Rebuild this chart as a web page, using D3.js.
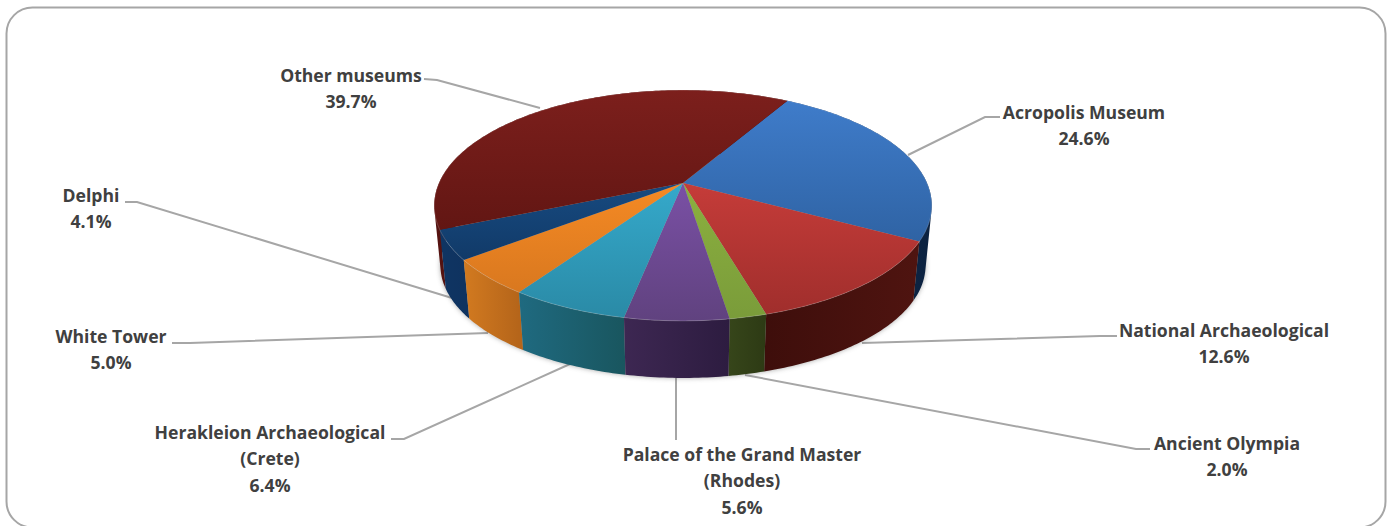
<!DOCTYPE html>
<html>
<head>
<meta charset="utf-8">
<script src="https://cdn.jsdelivr.net/npm/d3@7"></script>
<style>
  html, body { margin: 0; padding: 0; background: #fff; overflow: hidden; }
  text { font-family: "Open Sans", sans-serif; font-weight: 700; font-size: 17.6px; fill: #404040; }
</style>
</head>
<body>
<svg id="chart" width="1391" height="526"></svg>
<script>
// data, in drawing order (clockwise from the first slice)
const museums = ['Acropolis Museum', 'National Archaeological', 'Ancient Olympia',
  'Palace of the Grand Master (Rhodes)', 'Herakleion Archaeological (Crete)',
  'White Tower', 'Delphi', 'Other museums'];
const shares = [24.6, 12.6, 2.0, 5.6, 6.4, 5.0, 4.1, 39.7];
const labelLines = [['Acropolis Museum'], ['National Archaeological'], ['Ancient Olympia'],
  ['Palace of the Grand Master', '(Rhodes)'], ['Herakleion Archaeological', '(Crete)'],
  ['White Tower'], ['Delphi'], ['Other museums']];

const topTop = ['#3f7cca', '#c53c39', '#8cb03f', '#7a50a5', '#35a9cb', '#f58a24', '#174a80', '#7c1f1c'];
const topBot = ['#2f63a4', '#a02e2c', '#7a9c3a', '#60427f', '#2a8aa6', '#d9781f', '#113a68', '#621613'];
const sideA = ['#0f2a52', '#3e0e0b', '#36451a', '#3d2752', '#1f6a80', '#d27a20', '#0f3563', '#551311'];
const sideB = ['#0c2240', '#4f1410', '#2d3a14', '#2d1c40', '#19565f', '#b5651a', '#0f3360', '#3c0c0a'];

// label centre x, first baseline, and leader polyline
const labelLayout = [
  { x: 1084, y: 118.5, line: [[1000, 117], [985, 117], [908, 155]] },
  { x: 1224, y: 336.5, line: [[1117, 336], [1100, 336], [862, 343]] },
  { x: 1227, y: 449.5, line: [[1150, 449], [1136, 449], [745, 375]] },
  { x: 742, y: 460.5, line: [[676, 440], [676, 378]] },
  { x: 270, y: 438.5, line: [[391, 439], [404, 439], [570, 364]] },
  { x: 111, y: 342.5, line: [[172, 343], [190, 343], [488, 333]] },
  { x: 91, y: 201.5, line: [[125, 202], [137, 202], [452, 298]] },
  { x: 351, y: 81.5, line: [[424, 79], [437, 80], [540, 108]] }
];

const apexX = 683, apexY = 183;
const scaleX = 244, scaleY = 111, persp = 0.195;  // perspective of the pie disc
const depthScale = 0.975, depthY = 60.5;          // lower rim relative to the top one
const firstAngle = 30 * Math.PI / 180;

const svg = d3.select('#chart');
const defs = svg.append('defs');

function project(a, r, lower) {
  const X = r * Math.sin(a), Y = -r * Math.cos(a);
  const w = 1 - persp * Y;
  const u = scaleX * X / w, v = scaleY * Y / w;
  return lower ? [apexX + u * depthScale, apexY + v * depthScale + depthY]
               : [apexX + u, apexY + v];
}
function arcPoints(a0, a1, lower) {
  const n = Math.max(2, Math.ceil((a1 - a0) / 0.015));
  return d3.range(n + 1).map(i => project(a0 + (a1 - a0) * i / n, 1, lower));
}
const line = d3.line();

const pieData = d3.pie().sort(null)
  .startAngle(firstAngle).endAngle(firstAngle + 2 * Math.PI)(shares);

// frame
svg.append('rect').attr('x', 6.5).attr('y', 7.5).attr('width', 1379).attr('height', 520)
  .attr('rx', 26).attr('fill', '#fff').attr('stroke', '#a6a6a6').attr('stroke-width', 2);

// leader lines go under the pie
svg.append('g').selectAll('path').data(labelLayout).join('path')
  .attr('d', d => line(d.line)).attr('fill', 'none')
  .attr('stroke', '#a6a6a6').attr('stroke-width', 2);

// soft shadow round the lower rim
defs.append('filter').attr('id', 'soft').attr('x', '-5%').attr('y', '-5%').attr('width', '110%').attr('height', '110%')
  .append('feGaussianBlur').attr('stdDeviation', 2.5);
svg.append('path')
  .attr('d', line(arcPoints(0, 2 * Math.PI, true)) + 'Z')
  .attr('fill', '#555').attr('opacity', 0.5).attr('filter', 'url(#soft)');

// gradients
pieData.forEach((d, i) => {
  const g = defs.append('linearGradient').attr('id', 'top' + i)
    .attr('x1', 0).attr('x2', 0).attr('y1', 0).attr('y2', 1);
  g.append('stop').attr('offset', 0).attr('stop-color', topTop[i]);
  g.append('stop').attr('offset', 1).attr('stop-color', topBot[i]);
  const xs = arcPoints(d.startAngle, d.endAngle, false).map(p => p[0]);
  const s = defs.append('linearGradient').attr('id', 'side' + i)
    .attr('gradientUnits', 'userSpaceOnUse')
    .attr('x1', d3.min(xs)).attr('x2', d3.max(xs)).attr('y1', 0).attr('y2', 0);
  s.append('stop').attr('offset', 0).attr('stop-color', sideA[i]);
  s.append('stop').attr('offset', 1).attr('stop-color', sideB[i]);
});

// side walls, far ones first. One path of same-winding quads, so the silhouette
// stays tangent between the rims and no seams show
function wallPath(d) {
  const up = arcPoints(d.startAngle, d.endAngle, false);
  const low = arcPoints(d.startAngle, d.endAngle, true);
  return d3.range(up.length - 1).map(k => {
    const q = [up[k], up[k + 1], low[k + 1], low[k]];
    return line(d3.polygonArea(q) < 0 ? q.reverse() : q) + 'Z';
  }).join('');
}
const walls = pieData.map((d, i) => ({ d, i }))
  .sort((p, q) => d3.ascending(-Math.cos((p.d.startAngle + p.d.endAngle) / 2), -Math.cos((q.d.startAngle + q.d.endAngle) / 2)));
svg.append('g').selectAll('path').data(walls).join('path')
  .attr('d', w => wallPath(w.d))
  .attr('fill', w => `url(#side${w.i})`);

// top faces
svg.append('g').selectAll('path').data(pieData).join('path')
  .attr('d', d => line([project(0, 0, false)].concat(arcPoints(d.startAngle, d.endAngle, false))) + 'Z')
  .attr('fill', (d, i) => `url(#top${i})`);

// faint bevel along the top rim
svg.append('g').selectAll('path').data(pieData).join('path')
  .attr('d', d => line(arcPoints(d.startAngle, d.endAngle, false)))
  .attr('fill', 'none').attr('stroke', '#fff').attr('stroke-opacity', 0.18).attr('stroke-width', 1);

// labels
const labels = svg.append('g').selectAll('text').data(museums).join('text')
  .attr('text-anchor', 'middle');
labels.each(function (name, i) {
  const rows = labelLines[i].concat([shares[i].toFixed(1) + '%']);
  d3.select(this).selectAll('tspan').data(rows).join('tspan')
    .attr('x', labelLayout[i].x)
    .attr('y', (r, k) => labelLayout[i].y + k * 26.5)
    .text(r => r);
});
</script>
</body>
</html>
